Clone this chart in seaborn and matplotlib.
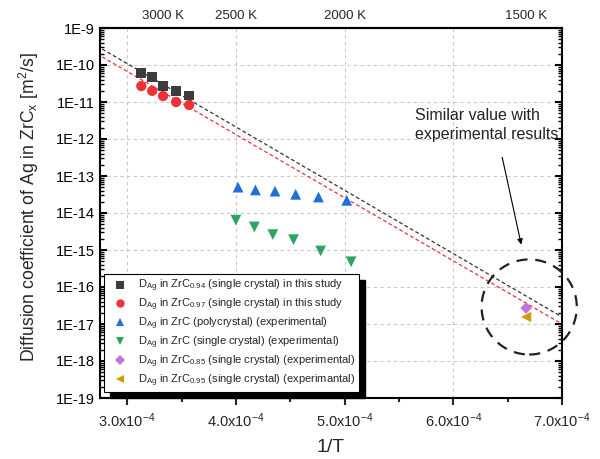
import numpy as np
import pandas as pd
import matplotlib
matplotlib.use("Agg")
import matplotlib.pyplot as plt
import seaborn as sns
from matplotlib.patches import Ellipse, Rectangle
from matplotlib.transforms import IdentityTransform
from matplotlib.ticker import FixedLocator, LogLocator, NullFormatter, FuncFormatter

# data (x = 1/T, y = D in m^2/s)
inv_T_study = [3.13e-4, 3.23e-4, 3.33e-4, 3.45e-4, 3.57e-4]
D_zrc094 = [6.0e-11, 4.7e-11, 2.7e-11, 2.0e-11, 1.5e-11]
D_zrc097 = [2.7e-11, 2.0e-11, 1.45e-11, 1.0e-11, 8.3e-12]

inv_T_poly = [4.02e-4, 4.18e-4, 4.36e-4, 4.55e-4, 4.76e-4, 5.02e-4]
D_poly = [5.0e-14, 4.2e-14, 3.9e-14, 3.2e-14, 2.7e-14, 2.2e-14]

inv_T_single = [4.0e-4, 4.17e-4, 4.34e-4, 4.53e-4, 4.78e-4, 5.06e-4]
D_single = [6.4e-15, 4.2e-15, 2.6e-15, 1.9e-15, 9.4e-16, 4.8e-16]

inv_T_1500 = [6.67e-4]
D_zrc085 = [2.7e-17]
D_zrc095 = [1.55e-17]

fit_x = [2.77e-4, 7.0e-4]
fit_zrc094 = [2.7e-10, 1.55e-17]
fit_zrc097 = [1.66e-10, 1.0e-17]

top_temps = [3000, 2500, 2000, 1500]

labels = [
    r"D$_{\mathregular{Ag}}$ in ZrC$_{\mathregular{0.94}}$ (single crystal) in this study",
    r"D$_{\mathregular{Ag}}$ in ZrC$_{\mathregular{0.97}}$ (single crystal) in this study",
    r"D$_{\mathregular{Ag}}$ in ZrC (polycrystal) (experimental)",
    r"D$_{\mathregular{Ag}}$ in ZrC (single crystal) (experimental)",
    r"D$_{\mathregular{Ag}}$ in ZrC$_{\mathregular{0.85}}$ (single crystal) (experimental)",
    r"D$_{\mathregular{Ag}}$ in ZrC$_{\mathregular{0.95}}$ (single crystal) (experimantal)",
]

sns.set_style("white")
plt.rcParams['font.family'] = ['Liberation Sans', 'DejaVu Sans']
plt.rcParams['mathtext.fontset'] = 'custom'
plt.rcParams['mathtext.rm'] = 'Liberation Sans'
plt.rcParams['mathtext.it'] = 'Liberation Sans:italic'

fig = plt.figure(figsize=(6, 4.59), dpi=100)
ax = fig.add_axes([100 / 600, 1 - 398 / 459, 462 / 600, 370 / 459])

# fit lines
sns.lineplot(x=fit_x, y=fit_zrc094, ax=ax, color="#333333", lw=0.9, zorder=2)
sns.lineplot(x=fit_x, y=fit_zrc097, ax=ax, color="#e8333a", lw=0.9, zorder=2)
for ln in ax.lines:
    ln.set_dashes((3, 2))

series = [
    (inv_T_study, D_zrc094, "s", "#3c3c3c", 50),
    (inv_T_study, D_zrc097, "o", "#ee3338", 55),
    (inv_T_poly, D_poly, "^", "#1f6fd4", 60),
    (inv_T_single, D_single, "v", "#2ea463", 60),
    (inv_T_1500, D_zrc085, "D", "#c073d9", 35),
    (inv_T_1500, D_zrc095, "<", "#d09a00", 55),
]
handles = []
for (xs, ys, mk, col, sz), lab in zip(series, labels):
    df = pd.DataFrame({"x": xs, "y": ys})
    sns.scatterplot(data=df, x="x", y="y", ax=ax, marker=mk, color=col, s=sz,
                    edgecolor="none", zorder=3)
    handles.append(plt.Line2D([], [], ls="none", marker=mk, color=col,
                              markersize=6 if mk != "D" else 5, markeredgewidth=0))

ax.set_yscale("log")
ax.set_xlim(2.75e-4, 7.0e-4)
ax.set_ylim(1e-19, 1e-9)

ax.xaxis.set_major_locator(FixedLocator([3e-4, 4e-4, 5e-4, 6e-4, 7e-4]))
ax.xaxis.set_minor_locator(FixedLocator([3.5e-4, 4.5e-4, 5.5e-4, 6.5e-4]))
ax.xaxis.set_major_formatter(FuncFormatter(lambda v, p: r"%.1fx10$^{\mathregular{-4}}$" % (v * 1e4)))
ax.yaxis.set_major_locator(LogLocator(base=10, numticks=20))
ax.yaxis.set_minor_locator(LogLocator(base=10, subs=np.arange(2, 10), numticks=20))
ax.yaxis.set_minor_formatter(NullFormatter())
ax.yaxis.set_major_formatter(FuncFormatter(lambda v, p: "1E%d" % round(np.log10(v))))

ax.tick_params(axis="y", which="both", direction="in", left=True, right=True,
               labelsize=10.5, width=1.5, colors="black")
ax.tick_params(axis="y", which="major", length=5)
ax.tick_params(axis="y", which="minor", length=3, width=1)
ax.tick_params(axis="x", which="both", direction="out", bottom=True, top=False,
               labelsize=10.5, width=1.5)
ax.tick_params(axis="x", which="major", length=5, pad=5)
ax.tick_params(axis="x", which="minor", length=3)

for side in ["left", "bottom", "right", "top"]:
    ax.spines[side].set_color("black")
    ax.spines[side].set_linewidth(1.5)

ax.grid(True, which="major", color="#c8c8c8", lw=0.8, ls=(0, (3, 3)))
ax.set_axisbelow(True)

ax.set_xlabel("1/T", fontsize=14, labelpad=6)
ax.set_ylabel(r"Diffusion coefficient of Ag in ZrC$_{\mathregular{x}}$ [m$^{\mathregular{2}}$/s]",
              fontsize=12.7)
ax.yaxis.set_label_coords(-0.127, 0.516)

# top temperature axis
top = ax.secondary_xaxis("top", functions=(lambda x: x, lambda x: x))
top.set_xticks([1 / t for t in top_temps])
top.set_xticklabels(["%d K" % t for t in top_temps])
top.tick_params(length=0, labelsize=9.5, pad=4)
top.spines["top"].set_linewidth(1.5)

# annotation
ax.text(5.65e-4, 6.8e-12, "Similar value with\nexperimental results", fontsize=11.5,
        va="top", ha="left", color="#222222", linespacing=1.3)
ax.annotate("", xy=(6.625e-4, 1.4e-15), xytext=(6.45e-4, 3.2e-13),
            arrowprops=dict(arrowstyle="-|>", color="black", lw=0.8,
                            mutation_scale=8, shrinkA=0, shrinkB=0))
ax.add_patch(Ellipse((0.929, 0.246), 0.206, 0.257, transform=ax.transAxes,
                     fill=False, ec="#222222", lw=1.6, ls=(0, (5, 3.5)),
                     clip_on=False, zorder=4))

leg = ax.legend(handles, labels, loc="lower left", bbox_to_anchor=(0.009, 0.016),
                borderaxespad=0, fontsize=8, frameon=True, fancybox=False,
                edgecolor="black", framealpha=1, labelspacing=0.22,
                handlelength=2.25, handletextpad=0.5, borderpad=0.32)
leg.get_frame().set_linewidth(0.8)
leg.set_zorder(6)

# offset black shadow behind the legend box
fig.canvas.draw()
bb = leg.get_window_extent()
ax.add_patch(Rectangle((bb.x0 + 6, bb.y0 - 6), bb.width, bb.height,
                       transform=IdentityTransform(), color="black",
                       zorder=5.5, clip_on=False))

fig.savefig("out.png", dpi=100)
